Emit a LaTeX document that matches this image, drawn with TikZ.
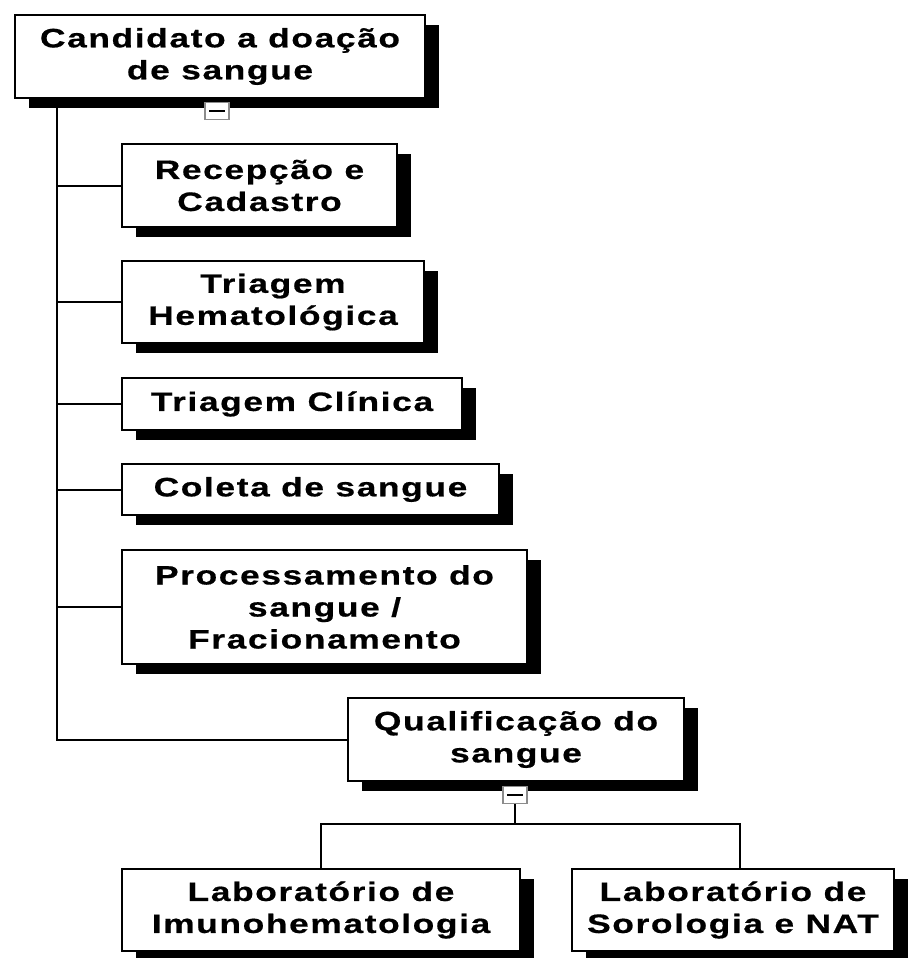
\documentclass[tikz,border=0pt]{standalone}
\usepackage{fontspec}
\usepackage{tikz}
\usetikzlibrary{positioning, shadows, calc}
\newfontfamily\etapafont{Liberation Sans Bold}[FakeStretch=1.33,LetterSpace=6,FakeBold=0.6]

\begin{document}
\begin{tikzpicture}[
    x=0.5pt, y=-0.5pt,
    etapa/.style={rectangle, draw=black, line width=1pt, fill=white, anchor=north west, align=center, inner sep=0pt,
        font=\etapafont\fontsize{13.3}{16}\selectfont,
        drop shadow={shadow xshift=6.75pt, shadow yshift=-5pt, opacity=1, fill=black}},
    liga/.style={line width=1pt},
    recolher/.style={rectangle, draw=black!45, line width=0.9pt, fill=white, minimum width=12pt, minimum height=8.5pt, inner sep=0pt}
]
\useasboundingbox (0,0) rectangle (909,958);

% Raiz
\node[etapa, minimum width=205pt, minimum height=41.5pt] (cand) at (14,14) {Candidato a doação\\de sangue};
\node[recolher] (menos1) at (217,111) {\rule{8pt}{1.1pt}};

% Etapas
\node[etapa, minimum width=137.5pt, minimum height=41.5pt] (recep) at (121,143) {Recepção e\\Cadastro};
\node[etapa, minimum width=151pt, minimum height=41pt] (hemato) at (121,260) {Triagem\\Hematológica};
\node[etapa, minimum width=170pt, minimum height=26pt] (clinica) at (121,377) {Triagem Clínica};
\node[etapa, minimum width=188.5pt, minimum height=25.5pt] (coleta) at (121,463) {Coleta de sangue};
\node[etapa, minimum width=202.5pt, minimum height=57pt] (process) at (121,549) {Processamento do\\sangue /\\Fracionamento};
\node[etapa, minimum width=168pt, minimum height=41.5pt] (qualif) at (347,697) {Qualificação do\\sangue};
\node[recolher] (menos2) at (515,795) {\rule{8pt}{1.1pt}};

% Laboratorios
\node[etapa, minimum width=199pt, minimum height=41pt] (imuno) at (121,868) {Laboratório de\\Imunohematologia};
\node[etapa, minimum width=161pt, minimum height=41pt] (soro) at (571,868) {Laboratório de\\Sorologia e NAT};

% Ligacoes
\coordinate (tronco) at ($(cand.south west)+(43,0)$);
\draw[liga] (tronco) |- (qualif.west);
\foreach \n in {recep, hemato, clinica, coleta, process}
    \draw[liga] (\n.west) -- (\n.west -| tronco);

\coordinate (garfo) at ($(menos2.south)+(0,20)$);
\draw[liga] (menos2.south) -- (garfo);
\draw[liga] (garfo) -| (imuno.north);
\draw[liga] (garfo) -| ($(soro.north)+(7,0)$);

\end{tikzpicture}
\end{document}
